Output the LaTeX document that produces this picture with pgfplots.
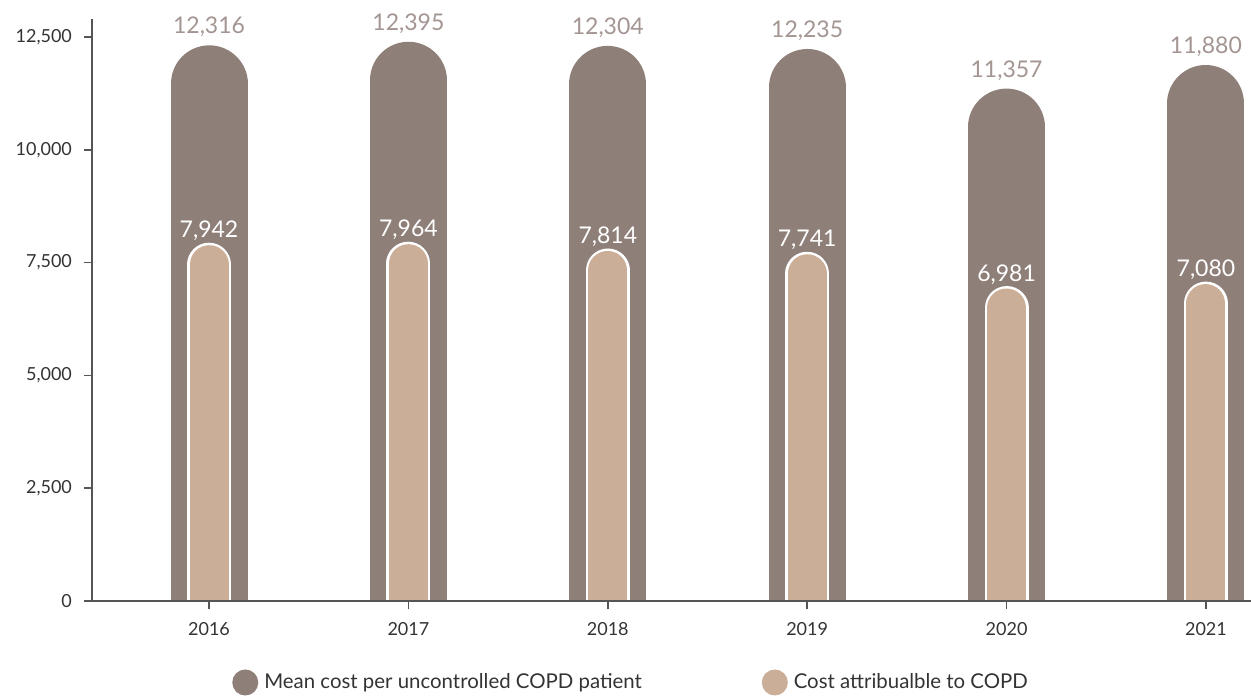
\documentclass[border=0pt]{standalone}
\usepackage{pgfplots}
\pgfplotsset{compat=1.18}
\usepackage{pgfplotstable}
\usepackage{fontspec}
\setmainfont{Lato}
\definecolor{outerc}{HTML}{8F7F79}
\definecolor{innerc}{HTML}{CBAE97}
\definecolor{toplab}{HTML}{A39591}
\definecolor{axisgray}{HTML}{555555}
\definecolor{txt}{HTML}{333333}
\pgfplotstableread{
x a b
0 12316 7942
1 12395 7964
2 12304 7814
3 12235 7741
4 11357 6981
5 11880 7080
}\data
\begin{document}
\begin{tikzpicture}
\begin{axis}[
  at={(0,0)}, anchor=south west,
  scale only axis, width=579.5pt, height=291pt,
  xmin=-0.587, xmax=5.226, ymin=0, ymax=12900,
  axis x line=bottom, axis y line=left,
  axis line style={-, draw=axisgray, line width=0.8pt},
  axis on top=true, clip mode=individual,
  ytick={0,2500,5000,7500,10000,12500},
  xtick={0,1,2,3,4,5},
  xticklabels={2016,2017,2018,2019,2020,2021},
  tick align=outside, major tick length=4pt,
  tick style={draw=axisgray, line width=0.8pt},
  scaled y ticks=false,
  /pgf/number format/1000 sep={,},
  /pgf/number format/assume math mode=true,
  tick label style={font=\fontsize{9}{10}\selectfont, text=txt},
  y tick label style={xshift=-2.5pt},
  x tick label style={yshift=-3pt},
  legend style={at={(0.466,-0.14)}, anchor=center, draw=none, fill=none,
    legend columns=2, font=\fontsize{10.2}{12}\selectfont, text=txt,
    /tikz/every even column/.append style={column sep=58pt},
    /tikz/every odd column/.append style={column sep=1pt}},
  legend cell align=left,
  legend image code/.code={\path[#1, draw=none] (0pt,0pt) circle (6.5pt);},
]
\addplot[ycomb, draw=outerc, line width=38.5pt, line cap=round, mark=none, forget plot,
  point meta=explicit, nodes near coords,
  nodes near coords style={anchor=base, yshift=25pt, text=toplab, font=\fontsize{11.5}{13}\selectfont}]
  table[x=x, y expr=\thisrow{a}-853, meta=a]{\data};
\addplot[ycomb, draw=white, line width=22pt, line cap=round, mark=none, forget plot]
  table[x=x, y expr=\thisrow{b}-488]{\data};
\addplot[ycomb, draw=innerc, line width=19.5pt, line cap=round, mark=none, forget plot,
  point meta=explicit, nodes near coords,
  nodes near coords style={anchor=base, yshift=13.5pt, text=white, font=\fontsize{11.5}{13}\selectfont}]
  table[x=x, y expr=\thisrow{b}-488, meta=b]{\data};
\addlegendimage{fill=outerc}
\addlegendentry{Mean cost per uncontrolled COPD patient}
\addlegendimage{fill=innerc}
\addlegendentry{Cost attribualble to COPD}
\end{axis}
\pgfresetboundingbox
\path (-46pt,-47.5pt) rectangle (579.5pt,300.5pt);
\end{tikzpicture}
\end{document}
